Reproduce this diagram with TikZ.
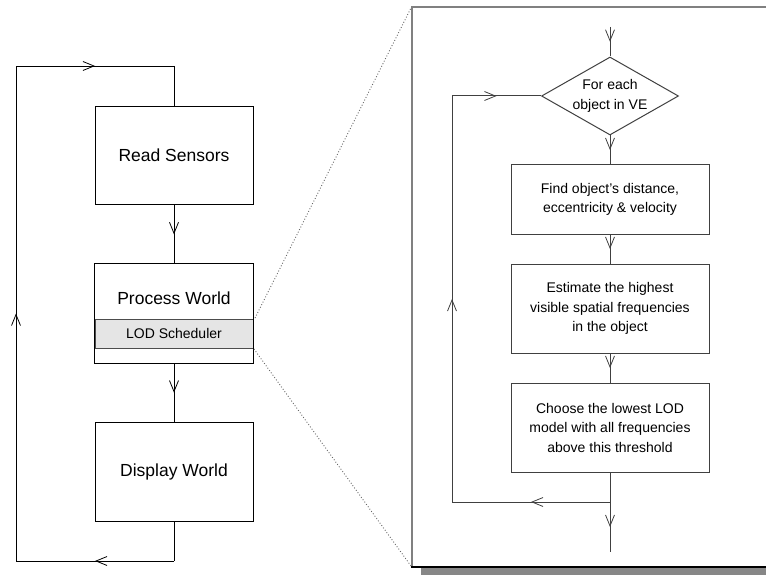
\documentclass[tikz,border=0pt]{standalone}
\usepackage{fontspec}
\setmainfont{Liberation Sans}
\usetikzlibrary{arrows.meta,decorations.markings,shapes.geometric}
\begin{document}
\begin{tikzpicture}[x=1pt,y=-1pt,
  bigtxt/.style={font=\fontsize{17.5}{21}\selectfont},
  smalltxt/.style={font=\fontsize{14}{19.5}\selectfont,align=center},
  leftbox/.style={draw=black,line width=0.9pt,minimum width=158pt,inner sep=0pt,fill=white},
  rightbox/.style={draw=black!75,line width=1pt,minimum width=198pt,inner sep=0pt,fill=white,smalltxt},
  conn/.style={draw=black,line width=0.9pt},
  rconn/.style={draw=black!75,line width=1pt},
  midarrow/.style={postaction={decorate},decoration={markings,mark=at position 0.5 with {\arrow{Straight Barb[length=11pt,width=9pt,line width=0.8pt]}}}}
]
\useasboundingbox (0,0) rectangle (766,575);
\clip (0,0) rectangle (766,575);
\fill[white] (0,0) rectangle (766,575);

% ---------- left loop ----------
\node[leftbox,minimum height=98pt,bigtxt] (rs) at (174,155.5) {Read Sensors};
\node[draw=none,fill=white,minimum width=158pt,minimum height=99pt,inner sep=0pt] (pw) at (174,313.5) {};
\node[draw=black!70,line width=0.9pt,fill=black!10,minimum width=158pt,minimum height=29pt,inner sep=0pt,font=\fontsize{14}{16}\selectfont] (lod) at (174,333.5) {LOD Scheduler};
\draw[black,line width=0.9pt] (pw.north west) rectangle (pw.south east);
\node[bigtxt] (pwt) at (174,298) {Process World};
\node[leftbox,minimum height=99pt,bigtxt] (dw) at (174,472) {Display World};

\coordinate (lb) at (174,561);
\coordinate (lbl) at (16,561);
\coordinate (ltl) at (16,66);
\coordinate (lt) at (174,66);

\draw[conn,midarrow] (rs.south) -- (pw.north);
\draw[conn,midarrow] (pw.south) -- (dw.north);
\draw[conn] (dw.south) -- (lb);
\draw[conn,midarrow] (lb) -- (lbl);
\draw[conn,midarrow] (lbl) -- (ltl);
\draw[conn,midarrow] (ltl) -- (lt);
\draw[conn] (lt) -- (rs.north);

% ---------- zoom lines ----------
\coordinate (z1) at (255,318);
\coordinate (z2) at (412,6);
\coordinate (z3) at (254,349);
\coordinate (z4) at (411,566);
\draw[black!60,line width=0.9pt,dotted] (z1) -- (z2);
\draw[black!60,line width=0.9pt,dotted] (z3) -- (z4);

% ---------- panel ----------
\fill[black!47] (421,567) rectangle (780,576);
\fill[white] (412,7) rectangle (780,567);
\draw[black!50,line width=2pt] (412,567) -- (412,7) -- (780,7);
\draw[black,line width=1.4pt] (411,567) -- (780,567);

% ---------- right flowchart ----------
\node[diamond,draw=black!75,line width=1pt,aspect=1.76,minimum width=137pt,minimum height=78pt,inner sep=0pt,smalltxt] (dia) at (610,96) {For each\\object in VE};
\node[rightbox,minimum height=69pt] (b1) at (610,199.5) {Find object's distance,\\eccentricity \& velocity};
\node[rightbox,minimum height=89pt] (b2) at (610,308.5) {Estimate the highest\\visible spatial frequencies\\in the object};
\node[rightbox,minimum height=89pt] (b3) at (610,427.5) {Choose the lowest LOD\\model with all frequencies\\above this threshold};

\coordinate (rin) at (610,27);
\coordinate (rj) at (610,502);
\coordinate (rout) at (610,552);
\coordinate (rbl) at (452,502);
\coordinate (rtl) at (452,96);

\draw[rconn,midarrow] (rin) -- (dia.north);
\draw[rconn,midarrow] (dia.south) -- (b1.north);
\draw[rconn,midarrow] (b1.south) -- (b2.north);
\draw[rconn,midarrow] (b2.south) -- (b3.north);
\draw[rconn] (b3.south) -- (rj);
\draw[rconn,midarrow] (rj) -- (rout);
\draw[rconn,midarrow] (rj) -- (rbl);
\draw[rconn,midarrow] (rbl) -- (rtl);
\draw[rconn,midarrow] (rtl) -- (dia.west);
\end{tikzpicture}
\end{document}
